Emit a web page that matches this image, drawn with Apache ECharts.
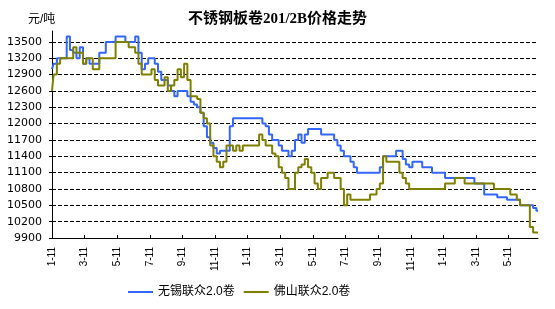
<!DOCTYPE html>
<html>
<head>
<meta charset="utf-8">
<script src="https://cdn.jsdelivr.net/npm/echarts@6/dist/echarts.min.js"></script>
<style>
html,body{margin:0;padding:0;background:#fff;}
#c{width:555px;height:309px;}
</style>
</head>
<body>
<div id="c"></div>
<script>
// tick labels on the category axis (one every 10 points)
var tickLabels = ['1-11','3-11','5-11','7-11','9-11','11-11','1-11','3-11','5-11','7-11','9-11','11-11','1-11','3-11','5-11'];
// y-axis tick values
var yTicks = [9900,10200,10500,10800,11100,11400,11700,12000,12300,12600,12900,13200,13500];
var seriesNames = ['无锡联众2.0卷','佛山联众2.0卷'];

var wuxi = [
13000,13100,13200,13200,13200,13600,13350,13300,13200,13400,
13100,13200,13100,13100,13100,13300,13300,13500,13500,13500,
13600,13600,13600,13500,13500,13500,13600,13300,13000,13100,
13200,13200,13100,12950,12800,12800,12700,12600,12500,12600,
12600,12600,12500,12400,12350,12300,12200,11950,11750,11650,
11550,11450,11500,11500,11500,11950,12100,12100,12100,12100,
12100,12100,12100,12100,12100,12000,11950,11800,11700,11700,
11600,11500,11500,11400,11500,11700,11800,11650,11800,11900,
11900,11900,11900,11800,11800,11800,11800,11700,11600,11500,
11400,11400,11300,11200,11100,11100,11100,11100,11100,11100,
11100,11200,11400,11400,11400,11400,11500,11500,11350,11250,
11200,11300,11300,11300,11200,11200,11200,11100,11100,11100,
11100,11000,11000,11000,11000,11000,11000,11000,11000,11000,
10900,10900,10900,10700,10700,10700,10700,10650,10650,10650,
10600,10600,10600,10600,10500,10500,10500,10500,10450,10400
];
var foshan = [
12600,12900,13100,13200,13200,13200,13200,13400,13300,13300,
13100,13200,13200,13000,13000,13200,13200,13200,13200,13200,
13500,13500,13500,13500,13400,13400,13300,13100,12900,12900,
12900,13000,12800,12700,12700,12850,12600,12700,12800,13000,
12850,13100,12800,12500,12500,12450,12200,12100,12000,11600,
11400,11300,11200,11300,11600,11600,11500,11600,11500,11600,
11600,11600,11600,11600,11800,11700,11600,11600,11450,11400,
11200,11100,11000,10800,10800,11100,11200,11250,11350,11200,
11100,10900,10800,11000,11000,11100,11100,11000,11000,10800,
10500,10700,10600,10600,10600,10600,10600,10600,10700,10700,
10800,10900,11400,11300,11300,11300,11300,11100,11000,10900,
10800,10800,10800,10800,10800,10800,10800,10800,10800,10800,
10800,10900,10900,10900,11000,11000,11000,10900,10900,10900,
10900,10900,10900,10900,10900,10900,10800,10800,10800,10800,
10800,10700,10700,10600,10500,10500,10500,10100,10000,10000
];

var categories = [];
for (var i = 0; i < wuxi.length; i++) {
  categories.push(i % 10 === 0 ? tickLabels[i / 10] : '');
}
var gridLines = [];
for (var k = 1; k < yTicks.length; k++) gridLines.push({yAxis: yTicks[k]});

var FONT = '"Liberation Sans","Noto Sans CJK SC",sans-serif';
var chart = echarts.init(document.getElementById('c'), null, {renderer: 'canvas'});
chart.setOption({
  animation: false,
  backgroundColor: '#ffffff',
  title: [
    {text: '不锈钢板卷201/2B价格走势', left: 'center', top: 7,
     textStyle: {fontSize: 15, fontWeight: 'bold', color: '#000', fontFamily: '"Liberation Serif","Noto Sans CJK SC",serif'}},
    {text: '元/吨', left: 23, top: 9,
     textStyle: {fontSize: 12, fontWeight: 'normal', color: '#000', fontFamily: FONT}}
  ],
  legend: {
    left: 123, top: 281,
    icon: 'rect', itemWidth: 25, itemHeight: 2, itemGap: 9,
    textStyle: {fontSize: 12, color: '#000', fontFamily: FONT},
    data: seriesNames
  },
  grid: {left: 52, right: 17, top: 31, bottom: 71, containLabel: false},
  xAxis: {
    type: 'category',
    boundaryGap: false,
    data: categories,
    axisLine: {lineStyle: {color: '#000', width: 1}},
    axisTick: {show: true, inside: true, length: 3, interval: 9, lineStyle: {color: '#000'}},
    axisLabel: {interval: 9, rotate: 90, margin: 9, fontSize: 10, color: '#000', fontFamily: FONT},
    splitLine: {show: false}
  },
  yAxis: {
    type: 'value',
    min: 9900, max: 13700, interval: 300,
    axisLine: {show: true, lineStyle: {color: '#000', width: 1}},
    axisTick: {show: true, length: 3, lineStyle: {color: '#000'}, customValues: yTicks},
    axisLabel: {margin: 10, fontSize: 11, color: '#000', fontFamily: '"DejaVu Sans",sans-serif', customValues: yTicks,
                formatter: function (v) { return String(v); }},
    splitLine: {show: true, lineStyle: {color: '#000000', type: 'dashed', width: 1, opacity: 1}}
  },
  series: [
    {name: seriesNames[0], type: 'line', step: 'middle', data: wuxi, showSymbol: false, symbol: 'none', z: 3,
     lineStyle: {color: '#3366FF', width: 2}, itemStyle: {color: '#3366FF'},
     markLine: {silent: true, z: 1, symbol: ['none', 'none'], label: {show: false}, animation: false,
                lineStyle: {color: '#000000', type: 'dashed', width: 1, opacity: 1},
                data: gridLines}},
    {name: seriesNames[1], type: 'line', step: 'middle', data: foshan, showSymbol: false, symbol: 'none', z: 4,
     lineStyle: {color: '#808000', width: 2}, itemStyle: {color: '#808000'}}
  ]
});
</script>
</body>
</html>
